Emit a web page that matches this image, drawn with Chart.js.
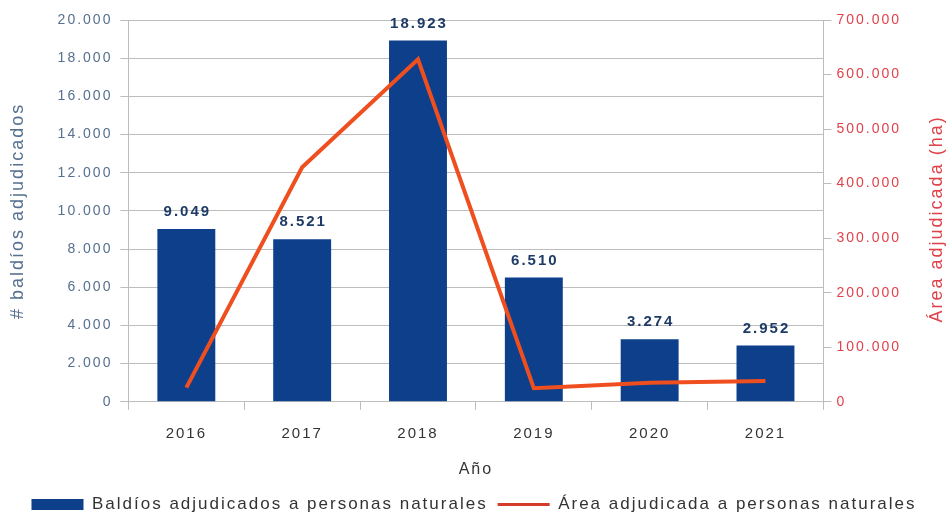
<!DOCTYPE html>
<html lang="es">
<head>
<meta charset="utf-8">
<title>Baldíos adjudicados a personas naturales</title>
<script src="https://cdn.jsdelivr.net/npm/chart.js@4.4.1/dist/chart.umd.min.js"></script>
<style>
  html, body { margin: 0; padding: 0; background: #fff; }
  canvas { display: block; }
</style>
</head>
<body>
<canvas id="baldiosChart" width="948" height="517"></canvas>
<script>
// years on the x axis
const years = ['2016', '2017', '2018', '2019', '2020', '2021'];
// number of plots awarded (left axis)
const baldios = [9049, 8521, 18923, 6510, 3274, 2952];
// awarded area in hectares (right axis)
const areaHa = [26000, 430000, 628000, 25000, 35000, 38000];

const barLabel = 'Baldíos adjudicados a personas naturales';
const lineLabel = 'Área adjudicada a personas naturales';
const leftTitle = '# baldíos adjudicados';
const rightTitle = 'Área adjudicada (ha)';
const xTitle = 'Año';

const navy = '#0d3f8b';
const red = '#ef4f1f';
const redText = '#e0424a';
const gridGray = '#bdbdbd';
const SPACING = '2px';

Chart.defaults.font.family = "'Liberation Sans', Arial, sans-serif";

// thousands separator with a dot
const fmt = (v) => String(v).replace(/\B(?=(\d{3})+(?!\d))/g, '.');

// wide letter spacing for every text the chart measures and draws
const letterSpacing = {
  id: 'letterSpacing',
  beforeUpdate(chart) { chart.ctx.letterSpacing = SPACING; },
  beforeDraw(chart) { chart.ctx.letterSpacing = SPACING; }
};

// value labels above the bars, drawn before the line goes on top
const barValues = {
  id: 'barValues',
  afterDatasetDraw(chart, args) {
    if (args.index !== 0) return;
    const ctx = chart.ctx;
    ctx.save();
    ctx.font = "bold 15px 'Liberation Sans', Arial, sans-serif";
    ctx.fillStyle = '#1d3b66';
    ctx.textAlign = 'center';
    ctx.textBaseline = 'middle';
    args.meta.data.forEach((bar, i) => {
      ctx.fillText(fmt(baldios[i]), bar.x + 1, bar.y - 17);
    });
    ctx.restore();
  }
};

// right axis title reads bottom to top like the left one
const rightAxisTitle = {
  id: 'rightAxisTitle',
  afterDraw(chart) {
    const ctx = chart.ctx;
    const area = chart.chartArea;
    ctx.save();
    ctx.translate(937, (area.top + area.bottom) / 2 + 8);
    ctx.rotate(-Math.PI / 2);
    ctx.font = "18px 'Liberation Sans', Arial, sans-serif";
    ctx.fillStyle = redText;
    ctx.textAlign = 'center';
    ctx.textBaseline = 'middle';
    ctx.fillText(rightTitle, 0, 0);
    ctx.restore();
  }
};

const ctx = document.getElementById('baldiosChart').getContext('2d');

new Chart(ctx, {
  type: 'bar',
  data: {
    labels: years,
    datasets: [
      {
        type: 'bar',
        label: barLabel,
        data: baldios,
        backgroundColor: navy,
        borderWidth: 0,
        barPercentage: 0.5,
        categoryPercentage: 1.0,
        yAxisID: 'y',
        order: 1
      },
      {
        type: 'line',
        label: lineLabel,
        data: areaHa,
        borderColor: red,
        backgroundColor: red,
        borderWidth: 4,
        pointRadius: 0,
        tension: 0,
        yAxisID: 'y1',
        order: 0
      }
    ]
  },
  options: {
    responsive: false,
    animation: false,
    layout: {
      padding: { top: 20, left: 0, right: 0, bottom: -6 }
    },
    scales: {
      x: {
        offset: true,
        grid: {
          offset: true,
          drawOnChartArea: false,
          drawTicks: true,
          tickLength: 8,
          color: gridGray
        },
        border: { color: gridGray },
        ticks: {
          color: '#333',
          font: { size: 15 },
          padding: 15
        },
        title: {
          display: true,
          text: xTitle,
          color: '#333',
          font: { size: 16 },
          padding: { top: 2, bottom: 7 }
        }
      },
      y: {
        position: 'left',
        min: 0,
        max: 20000,
        ticks: {
          stepSize: 2000,
          color: '#56708f',
          font: { size: 14 },
          padding: 8,
          callback: (v) => fmt(v)
        },
        grid: {
          color: gridGray,
          tickLength: 8
        },
        border: { color: gridGray },
        title: {
          display: true,
          text: leftTitle,
          color: '#56708f',
          font: { size: 18 },
          padding: { top: 7, bottom: 21 }
        }
      },
      y1: {
        position: 'right',
        min: 0,
        max: 700000,
        ticks: {
          stepSize: 100000,
          color: redText,
          font: { size: 14 },
          padding: 5,
          callback: (v) => fmt(v)
        },
        grid: {
          drawOnChartArea: false,
          color: gridGray,
          tickLength: 8
        },
        border: { color: gridGray },
        // room for the rotated title drawn by rightAxisTitle
        afterFit(scale) { scale.width += 42; }
      }
    },
    plugins: {
      tooltip: { enabled: false },
      legend: {
        position: 'bottom',
        labels: {
          color: '#333',
          font: { size: 17 },
          usePointStyle: true,
          pointStyleWidth: 52,
          boxHeight: 11,
          padding: 10,
          sort: (a, b) => a.datasetIndex - b.datasetIndex,
          generateLabels(chart) {
            const items = Chart.defaults.plugins.legend.labels.generateLabels(chart);
            items.forEach((it) => {
              if (it.datasetIndex === 0) {
                it.pointStyle = 'rect';
                it.fillStyle = navy;
                it.strokeStyle = navy;
                it.lineWidth = 0;
              } else {
                it.pointStyle = 'line';
                it.strokeStyle = '#d63a2a';
                it.lineWidth = 3;
              }
            });
            return items;
          }
        }
      }
    }
  },
  plugins: [letterSpacing, barValues, rightAxisTitle]
});
</script>
</body>
</html>
